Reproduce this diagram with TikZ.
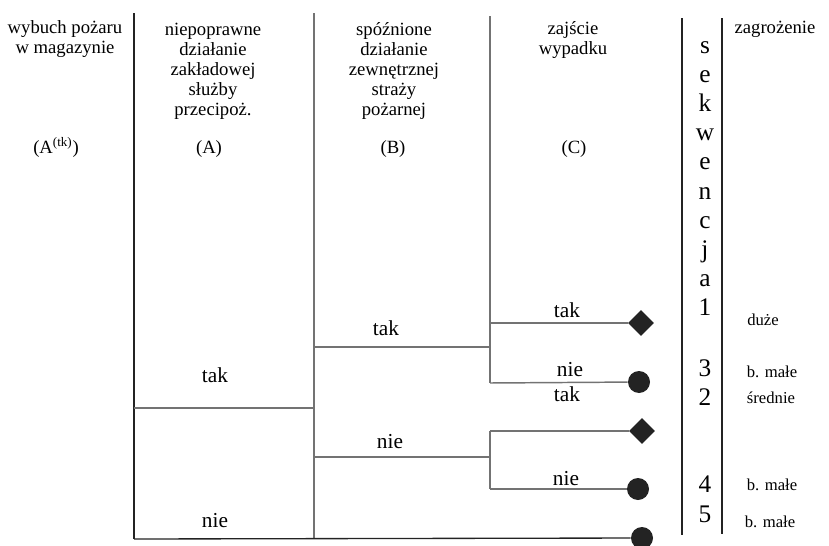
\documentclass[tikz,border=0pt]{standalone}
\usepackage{fontspec}
\setmainfont{Liberation Serif}
\usetikzlibrary{shapes.geometric}
\definecolor{tgdark}{RGB}{35,35,35}
\definecolor{tggray}{RGB}{115,115,115}

\begin{document}
\begin{tikzpicture}[x=0.75pt, y=-0.75pt,
  divider/.style={draw=tgdark, line width=1pt},
  branch/.style={draw=tggray, line width=1.1pt},
  head/.style={align=center, anchor=base, inner sep=0pt, font=\fontsize{14}{15}\selectfont},
  answer/.style={anchor=base, inner sep=0pt, font=\fontsize{16}{18}\selectfont},
  seqchar/.style={anchor=base, inner sep=0pt, font=\fontsize{19}{20}\selectfont},
  risk/.style={anchor=base, inner sep=0pt, font=\fontsize{12.5}{14}\selectfont},
  bigrisk/.style={diamond, fill=tgdark, inner sep=0pt, minimum size=19.5pt},
  lowrisk/.style={circle, fill=tgdark, inner sep=0pt, minimum size=16.5pt}]
\useasboundingbox (0,0) rectangle (829,546);

% column headers (base = last line)
\node[head] (hfire) at (65,53) {wybuch pożaru\\w magazynie};
\node[head] (hA) at (213,115) {niepoprawne\\działanie\\zakładowej\\służby\\przecipoż.};
\node[head] (hB) at (394,115) {spóźnione\\działanie\\zewnętrznej\\straży\\pożarnej};
\node[head] (hC) at (573,55) {zajście\\wypadku};
\node[head] (hrisk) at (775,33) {zagrożenie};
\node[head] (sAtk) at (56,153) {(A\textsuperscript{(tk)})};
\node[head] (sA) at (209,153) {(A)};
\node[head] (sB) at (393,153) {(B)};
\node[head] (sC) at (574,153) {(C)};

% vertical sequence label
\foreach \ch [count=\i from 0] in {s,e,k,w,e,n,c,j,a,1} {
  \node[seqchar] (seq\i) at (705,53+29.2*\i) {\ch};
}

% column dividers
\draw[divider] (134,13) -- (134,539);
\draw[branch] (314,13) -- (314,539);
\draw[divider] (682,18) -- (682,535);
\draw[divider] (722,18) -- (722,534);

% branch points
\coordinate (atak) at (134,408);
\coordinate (anie) at (134,539);
\coordinate (bfork) at (314,408);
\coordinate (btak) at (314,347);
\coordinate (bnie) at (314,457);
\coordinate (ctak) at (490,347);
\coordinate (cnie) at (490,457);
\coordinate (ctt) at (490,323);
\coordinate (ctn) at (490,383);
\coordinate (cnt) at (490,431);
\coordinate (cnn) at (490,489);

% end states
\node[bigrisk] (end1) at (641,323) {};
\node[lowrisk] (end3) at (639,382) {};
\node[bigrisk] (end2) at (642,431) {};
\node[lowrisk] (end4) at (638,489) {};
\node[lowrisk] (end5) at (642,538) {};

\draw[branch] (490,16) -- (ctn);
\draw[branch] (cnt) -- (cnn);
\draw[branch] (atak) -- (bfork);
\draw[divider] (anie) -- (end5);
\draw[branch] (btak) -- (ctak);
\draw[branch] (bnie) -- (cnie);
\draw[branch] (ctt) -- (end1);
\draw[branch] (ctn) -- (end3);
\draw[branch] (cnt) -- (end2);
\draw[branch] (cnn) -- (end4);

% branch answers
\node[answer] (lAtak) at (215,382) {tak};
\node[answer] (lAnie) at (215,527) {nie};
\node[answer] (lBtak) at (386,335) {tak};
\node[answer] (lBnie) at (390,448) {nie};
\node[answer] (lCtt) at (567,317) {tak};
\node[answer] (lCtn) at (570,376) {nie};
\node[answer] (lCnt) at (567,401) {tak};
\node[answer] (lCnn) at (566,485) {nie};

% sequence numbers
\node[seqchar] (n3) at (705,376) {3};
\node[seqchar] (n2) at (705,405) {2};
\node[seqchar] (n4) at (705,492) {4};
\node[seqchar] (n5) at (705,522) {5};

% risk levels
\node[risk] (r1) at (763,325) {duże};
\node[risk] (r3) at (772,377) {b. małe};
\node[risk] (r2) at (771,403) {średnie};
\node[risk] (r4) at (772,490) {b. małe};
\node[risk] (r5) at (770,527) {b. małe};
\end{tikzpicture}
\end{document}
